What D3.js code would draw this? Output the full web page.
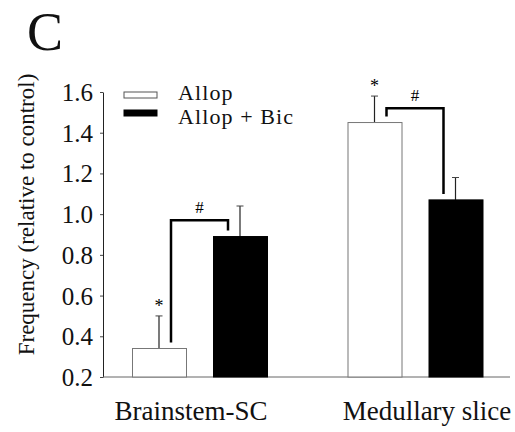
<!DOCTYPE html>
<html>
<head>
<meta charset="utf-8">
<script src="https://cdn.jsdelivr.net/npm/d3@7.9.0/dist/d3.min.js"></script>
<style>
  body { margin: 0; background: #fff; }
  svg { display: block; }
  svg text { font-family: 'Liberation Serif', 'Times New Roman', serif; }
</style>
</head>
<body>
<svg id="chart" width="515" height="432"></svg>
<script>
// data
const categories = ['Brainstem-SC', 'Medullary slice'];
const seriesNames = ['Allop', 'Allop + Bic'];
const allopValues = [0.34, 1.45];
const allopErrors = [0.16, 0.13];
const bicValues = [0.89, 1.07];
const bicErrors = [0.15, 0.11];
const bracketLevels = [0.97, 1.52];
const yTicks = [0.2, 0.4, 0.6, 0.8, 1.0, 1.2, 1.4, 1.6];

const serif = "'Liberation Serif', 'Times New Roman', serif";
const svg = d3.select('#chart');

const y = d3.scaleLinear().domain([0.2, 1.6]).range([377, 92]);
const x = d3.scalePoint().domain(categories).range([199.5, 415]);
const xLabel = d3.scalePoint().domain(categories).range([191, 427]);
const inner = d3.scaleBand().domain(seriesNames).range([-67.5, 67.5]).paddingInner(1 / 3);
const color = d3.scaleOrdinal().domain(seriesNames).range(['#fff', '#000']);

const rows = categories.map((c, i) => ({
  cat: c,
  bars: [
    { s: seriesNames[0], v: allopValues[i], e: allopErrors[i] },
    { s: seriesNames[1], v: bicValues[i], e: bicErrors[i] }
  ],
  level: bracketLevels[i]
}));

// panel letter
svg.append('text').attr('x', 27).attr('y', 50)
  .attr('font-family', serif).attr('font-size', 54).attr('fill', '#111').text('C');

// y axis
const yAxis = d3.axisLeft(y).tickValues(yTicks).tickFormat(d3.format('.1f'))
  .tickSize(3).tickSizeOuter(0);
const gy = svg.append('g').attr('transform', 'translate(103,0)').call(yAxis)
  .attr('font-family', serif);
gy.select('.domain').attr('stroke', '#222');
gy.selectAll('.tick line').attr('stroke', '#444');
gy.selectAll('.tick text').attr('font-size', 25).attr('font-family', serif)
  .attr('x', -10).attr('dy', '0.34em').attr('fill', '#111');

// x baseline
svg.append('line').attr('x1', 103).attr('x2', 510)
  .attr('y1', y(0.2)).attr('y2', y(0.2))
  .attr('stroke', '#666').attr('stroke-width', 1);

// y title
svg.append('text')
  .attr('transform', `translate(34,${(72 + 357) / 2}) rotate(-90)`)
  .attr('text-anchor', 'middle').attr('font-family', serif)
  .attr('font-size', 23).attr('fill', '#111')
  .text('Frequency (relative to control)');

// bars
const groups = svg.selectAll('g.grp').data(rows).join('g')
  .attr('class', 'grp')
  .attr('transform', (d) => `translate(${x(d.cat)},0)`);

groups.selectAll('line.err').data((d) => d.bars).join('line')
  .attr('class', 'err')
  .attr('x1', (d) => inner(d.s) + inner.bandwidth() / 2)
  .attr('x2', (d) => inner(d.s) + inner.bandwidth() / 2)
  .attr('y1', (d) => y(d.v)).attr('y2', (d) => y(d.v + d.e))
  .attr('stroke', '#222').attr('stroke-width', 1.2);

groups.selectAll('line.cap').data((d) => d.bars).join('line')
  .attr('class', 'cap')
  .attr('x1', (d) => inner(d.s) + inner.bandwidth() / 2 - 3.5)
  .attr('x2', (d) => inner(d.s) + inner.bandwidth() / 2 + 3.5)
  .attr('y1', (d) => y(d.v + d.e)).attr('y2', (d) => y(d.v + d.e))
  .attr('stroke', '#444').attr('stroke-width', 1);

groups.selectAll('rect').data((d) => d.bars).join('rect')
  .attr('x', (d) => inner(d.s) + 0.5)
  .attr('y', (d) => y(d.v))
  .attr('width', inner.bandwidth())
  .attr('height', (d) => y(0.2) - y(d.v))
  .attr('fill', (d) => color(d.s))
  .attr('stroke', (d) => (d.s === seriesNames[0] ? '#777' : '#000'))
  .attr('stroke-width', 1);

// asterisks above the Allop bars
groups.append('text')
  .attr('x', inner(seriesNames[0]) + inner.bandwidth() / 2)
  .attr('y', (d) => y(d.bars[0].v + d.bars[0].e) - 4)
  .attr('text-anchor', 'middle').attr('font-family', serif)
  .attr('font-size', 18).text('*');

// significance brackets
groups.append('path')
  .attr('d', (d) => {
    const xl = inner(seriesNames[0]) + inner.bandwidth() / 2 + 12;
    const xr = inner(seriesNames[1]) + inner.bandwidth() / 2 - 12;
    return `M${xl},${y(d.bars[0].v) - 6}V${y(d.level)}H${xr}V${y(d.bars[1].v) - 6}`;
  })
  .attr('fill', 'none').attr('stroke', '#000').attr('stroke-width', 2.5);

groups.append('text')
  .attr('x', 0).attr('y', (d) => y(d.level) - 7)
  .attr('text-anchor', 'middle').attr('font-family', serif)
  .attr('font-size', 17).text('#');

// category labels
svg.selectAll('text.cat').data(categories).join('text')
  .attr('class', 'cat')
  .attr('x', (d) => xLabel(d)).attr('y', 420)
  .attr('text-anchor', 'middle').attr('font-family', serif)
  .attr('font-size', 27).attr('fill', '#111')
  .text((d) => d);

// legend
const legend = svg.append('g').selectAll('g').data(seriesNames).join('g')
  .attr('transform', (d, i) => `translate(124,${95 + i * 18})`);
legend.append('rect')
  .attr('x', 0).attr('y', -3).attr('width', 33).attr('height', 6)
  .attr('fill', (d) => color(d))
  .attr('stroke', (d, i) => (i === 0 ? '#555' : '#000'));
legend.append('text')
  .attr('x', 54).attr('y', (d, i) => 5 + i * 6)
  .attr('font-family', serif).attr('font-size', 22)
  .attr('letter-spacing', 1.1).attr('fill', '#111')
  .text((d) => d);
</script>
</body>
</html>
